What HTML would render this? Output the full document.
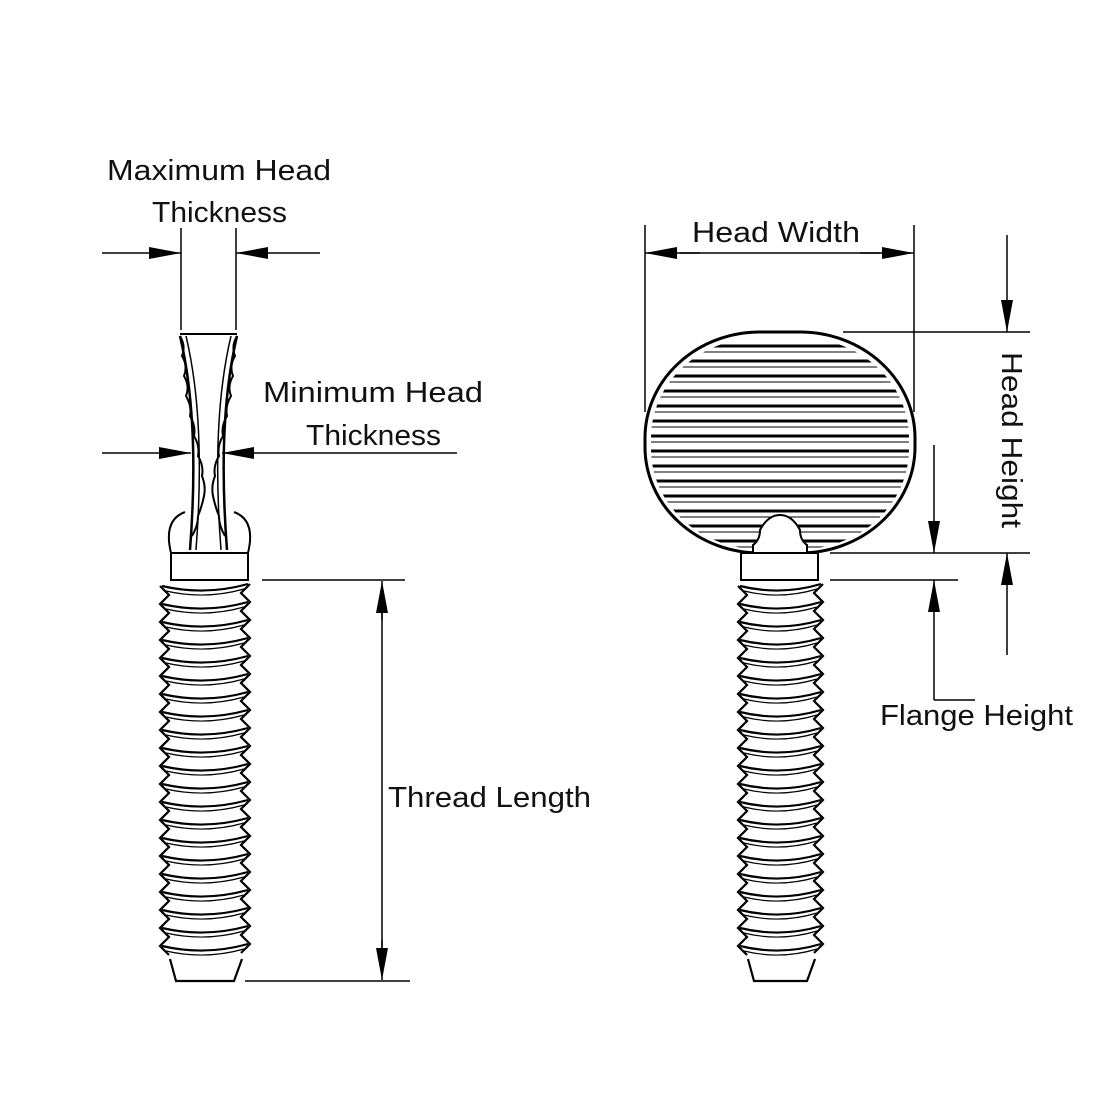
<!DOCTYPE html>
<html><head><meta charset="utf-8"><style>
html,body{margin:0;padding:0;background:#fff;}
svg{display:block}
text{font-family:"Liberation Sans",sans-serif;font-size:29px;fill:#111;}
</style></head><body>
<svg id="s" width="1100" height="1100" viewBox="0 0 1100 1100" xmlns="http://www.w3.org/2000/svg">
<defs>
<marker id="b" markerWidth="32" markerHeight="12" refX="32" refY="6" orient="auto" markerUnits="userSpaceOnUse"><path d="M0,0 L32,6 L0,12 Z" fill="#000"/></marker>
<clipPath id="hc"><rect x="651" y="338" width="258" height="211" rx="108" ry="100"/></clipPath>
</defs>
<g stroke="#000" stroke-width="1.5" fill="none">
<line x1="181" y1="228" x2="181" y2="330"/>
<line x1="236" y1="228" x2="236" y2="330"/>
<line x1="102" y1="253" x2="181" y2="253" marker-end="url(#b)"/>
<line x1="320" y1="253" x2="236" y2="253" marker-end="url(#b)"/>
<line x1="102" y1="453" x2="191" y2="453" marker-end="url(#b)"/>
<line x1="457" y1="453" x2="222" y2="453" marker-end="url(#b)"/>
<path d="M180,336 Q200,420 190,550 M237,336 Q217,420 227,550" stroke-width="2.5"/>
<path d="M186,336 Q206,420 196,550 M231,336 Q211,420 221,550"/>
<path d="M180,334 L237,334" stroke-width="2"/>
<path d="M180,336 q6,10 2,20 q6,10 2,20 q6,10 2,20 q6,10 4,20 q6,10 4,20 q6,10 4,20 q6,10 4,20 q4,10 2,20 q-2,10 -6,20 q0,10 -6,20" stroke-width="2"/>
<path d="M237,336 q-6,10 -2,20 q-6,10 -2,20 q-6,10 -2,20 q-6,10 -4,20 q-6,10 -4,20 q-6,10 -4,20 q-6,10 -4,20 q-4,10 -2,20 q2,10 6,20 q0,10 6,20" stroke-width="2"/>
<path d="M171,553 Q163,520 185,512 M248,553 Q256,520 234,512" stroke-width="2"/>
<rect x="171" y="553" width="77" height="27" stroke-width="2"/>
<line x1="262" y1="580" x2="405" y2="580"/>
<line x1="245" y1="981" x2="410" y2="981"/>
<line x1="382" y1="620" x2="382" y2="581" marker-end="url(#b)"/>
<line x1="382" y1="940" x2="382" y2="980" marker-end="url(#b)"/>
<line x1="382" y1="600" x2="382" y2="960"/>
<g id="t1" stroke-width="2.2"></g>
<rect x="645" y="332" width="270" height="221" rx="115" ry="106" stroke-width="3"/>
<g id="rib" clip-path="url(#hc)"></g>
<path d="M753,553 L753,545 Q760,540 760,530 Q768,515 780,515 Q792,515 800,530 Q800,540 807,545 L807,553" stroke-width="2" fill="#fff"/>
<rect x="741" y="553" width="77" height="27" stroke-width="2" fill="#fff"/>
<g id="t2" stroke-width="2.2"></g>
<line x1="645" y1="225" x2="645" y2="412"/>
<line x1="914" y1="225" x2="914" y2="412"/>
<line x1="700" y1="253" x2="645" y2="253" marker-end="url(#b)"/>
<line x1="860" y1="253" x2="914" y2="253" marker-end="url(#b)"/>
<line x1="680" y1="253" x2="880" y2="253"/>
<line x1="843" y1="332" x2="1030" y2="332"/>
<line x1="830" y1="553" x2="1030" y2="553"/>
<line x1="1007" y1="235" x2="1007" y2="332" marker-end="url(#b)"/>
<line x1="1007" y1="655" x2="1007" y2="553" marker-end="url(#b)"/>
<line x1="830" y1="580" x2="958" y2="580"/>
<line x1="934" y1="445" x2="934" y2="553" marker-end="url(#b)"/>
<line x1="934" y1="700" x2="934" y2="580" marker-end="url(#b)"/>
<line x1="934" y1="700" x2="975" y2="700"/>
</g>
<text x="107" y="180" textLength="224" lengthAdjust="spacingAndGlyphs">Maximum Head</text>
<text x="152" y="222" textLength="135" lengthAdjust="spacingAndGlyphs">Thickness</text>
<text x="263" y="402" textLength="220" lengthAdjust="spacingAndGlyphs">Minimum Head</text>
<text x="306" y="445" textLength="135" lengthAdjust="spacingAndGlyphs">Thickness</text>
<text x="388" y="807" textLength="203" lengthAdjust="spacingAndGlyphs">Thread Length</text>
<text x="692" y="242" textLength="168" lengthAdjust="spacingAndGlyphs">Head Width</text>
<text x="880" y="725" textLength="193" lengthAdjust="spacingAndGlyphs">Flange Height</text>
<text x="0" y="0" textLength="176" lengthAdjust="spacingAndGlyphs" transform="translate(1002,352) rotate(90)">Head Height</text>
</svg>
<script>
var NS="http://www.w3.org/2000/svg";
function el(p,t,a){var e=document.createElementNS(NS,t);for(var k in a)e.setAttribute(k,a[k]);p.appendChild(e);return e;}
function thread(g,xl,xr,y0,y1){
  var P=18,L="",R="";
  for(var y=y0;y<y1-22;y+=P){
    el(g,"path",{d:"M"+(xl+2)+","+(y+4)+" Q"+((xl+xr)/2)+","+(y+14)+" "+(xr-2)+","+(y+2)});
    el(g,"path",{d:"M"+(xl+6)+","+(y+9)+" Q"+((xl+xr)/2)+","+(y+18)+" "+(xr-6)+","+(y+7),"stroke-width":"1.2"});
    L+=(L?" L":"M")+(xl)+","+(y+4)+" L"+(xl+9)+","+(y+13);
    R+=(R?" L":"M")+(xr)+","+(y+2)+" L"+(xr-9)+","+(y+11);
  }
  el(g,"path",{d:L});el(g,"path",{d:R});
  el(g,"path",{d:"M"+(xl+10)+","+(y1-22)+" L"+(xl+16)+","+y1+" L"+(xr-16)+","+y1+" L"+(xr-8)+","+(y1-22)});
}
thread(document.getElementById("t1"),160,250,582,981);
thread(document.getElementById("t2"),738,823,582,981);
var r=document.getElementById("rib");
for(var y=346;y<553;y+=15){el(r,"line",{x1:640,y1:y,x2:920,y2:y,"stroke-width":"3"});el(r,"line",{x1:640,y1:y+6,x2:920,y2:y+6,"stroke-width":"1"});}
</script>
</body></html>
